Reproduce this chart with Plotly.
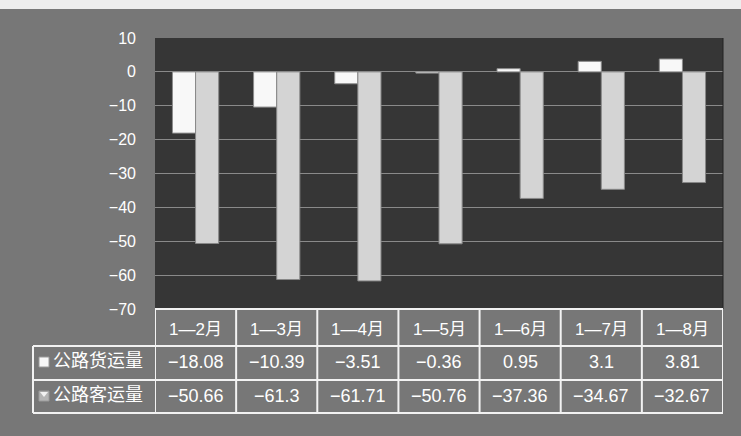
import plotly.graph_objects as go

categories = ["1—2月", "1—3月", "1—4月", "1—5月", "1—6月", "1—7月", "1—8月"]
freight = [-18.08, -10.39, -3.51, -0.36, 0.95, 3.1, 3.81]
passenger = [-50.66, -61.3, -61.71, -50.76, -37.36, -34.67, -32.67]
freight_labels = ["−18.08", "−10.39", "−3.51", "−0.36", "0.95", "3.1", "3.81"]
passenger_labels = ["−50.66", "−61.3", "−61.71", "−50.76", "−37.36", "−34.67", "−32.67"]
series_names = ["公路货运量", "公路客运量"]
y_ticks = [10, 0, -10, -20, -30, -40, -50, -60, -70]

W, H = 741, 436
FONT = "Liberation Sans, Arial, Noto Sans CJK SC, sans-serif"


def px(x):
    return x / W


def py(y):
    return 1 - y / H


fig = go.Figure()
fig.add_trace(go.Bar(x=categories, y=freight, name=series_names[0],
                     marker=dict(color="#f8f8f8", line=dict(color="#8c8c8c", width=1))))
fig.add_trace(go.Bar(x=categories, y=passenger, name=series_names[1],
                     marker=dict(color="#d4d4d4", line=dict(color="#888888", width=1))))

shapes = []
shapes.append(dict(type="rect", xref="paper", yref="paper", x0=0, x1=1, y0=py(9), y1=1,
                   fillcolor="#ededed", line=dict(width=0)))
shapes.append(dict(type="line", xref="paper", yref="paper", x0=px(723), x1=px(723), y0=py(309), y1=py(38),
                   line=dict(color="#222222", width=1)))

row_y = [309, 346, 380, 413]
n = len(categories)
shapes.append(dict(type="line", xref="x", yref="paper", x0=-0.5, x1=n - 0.5, y0=py(row_y[0]), y1=py(row_y[0]),
                   line=dict(color="#f2f2f2", width=2)))
for ry in row_y[1:]:
    shapes.append(dict(type="line", xref="paper", yref="paper", x0=px(33), x1=px(723), y0=py(ry), y1=py(ry),
                       line=dict(color="#f2f2f2", width=2)))
for k in range(n + 1):
    shapes.append(dict(type="line", xref="x", yref="paper", x0=k - 0.5, x1=k - 0.5, y0=py(row_y[3]), y1=py(row_y[0]),
                       line=dict(color="#f2f2f2", width=2)))
shapes.append(dict(type="line", xref="paper", yref="paper", x0=px(33), x1=px(33), y0=py(row_y[3]), y1=py(row_y[1]),
                   line=dict(color="#f2f2f2", width=2)))
shapes.append(dict(type="rect", xref="paper", yref="paper", x0=px(39), x1=px(49), y0=py(367), y1=py(357),
                   fillcolor="#f7f7f7", line=dict(color="#9a9a9a", width=1)))
shapes.append(dict(type="rect", xref="paper", yref="paper", x0=px(39), x1=px(49), y0=py(401), y1=py(391),
                   fillcolor="#b5b5b5", line=dict(color="#9a9a9a", width=1)))
shapes.append(dict(type="path", xref="paper", yref="paper",
                   path=f"M {px(40)},{py(392)} L {px(48)},{py(392)} L {px(44)},{py(397)} Z",
                   fillcolor="#f2f2f2", line=dict(width=0)))

TEXT_SHIFT = -11
annotations = []
for i, c in enumerate(categories):
    annotations.append(dict(x=c, y=py((row_y[0] + row_y[1]) / 2), xref="x", yref="paper", text=c,
                            showarrow=False, yshift=TEXT_SHIFT - 2,
                            font=dict(color="white", size=17, family=FONT)))
    annotations.append(dict(x=c, y=py((row_y[1] + row_y[2]) / 2), xref="x", yref="paper", text=freight_labels[i],
                            showarrow=False, yshift=TEXT_SHIFT,
                            font=dict(color="white", size=18, family=FONT)))
    annotations.append(dict(x=c, y=py((row_y[2] + row_y[3]) / 2), xref="x", yref="paper", text=passenger_labels[i],
                            showarrow=False, yshift=TEXT_SHIFT,
                            font=dict(color="white", size=18, family=FONT)))
for j, nm in enumerate(series_names):
    annotations.append(dict(x=px(51), y=py((row_y[1 + j] + row_y[2 + j]) / 2), xref="paper", yref="paper",
                            text=nm, xanchor="left", showarrow=False, yshift=TEXT_SHIFT,
                            font=dict(color="white", size=18, family="Noto Sans CJK SC")))

fig.update_layout(
    width=W, height=H,
    margin=dict(l=0, r=0, t=0, b=0, pad=0),
    paper_bgcolor="#777777",
    plot_bgcolor="#363636",
    barmode="group",
    bargap=0.43,
    bargroupgap=0,
    showlegend=False,
    shapes=shapes,
    annotations=annotations,
    font=dict(family=FONT, color="white"),
    xaxis=dict(domain=[px(155), px(723)], showticklabels=False, showgrid=False, zeroline=False,
               range=[-0.5, n - 0.5], automargin=False),
    yaxis=dict(domain=[py(309), py(38)], range=[-70, 10], tickvals=y_ticks, automargin=False,
               showgrid=True, gridcolor="#8a8a8a", gridwidth=1, zeroline=True, zerolinecolor="#8a8a8a",
               zerolinewidth=1, tickfont=dict(size=16, color="white", family=FONT),
               ticks="", ticklabelstandoff=18, showline=False),
)

fig.write_html("out.html", config={"displayModeBar": False},
               post_script="document.body.style.margin='0';document.body.style.overflow='hidden';")
